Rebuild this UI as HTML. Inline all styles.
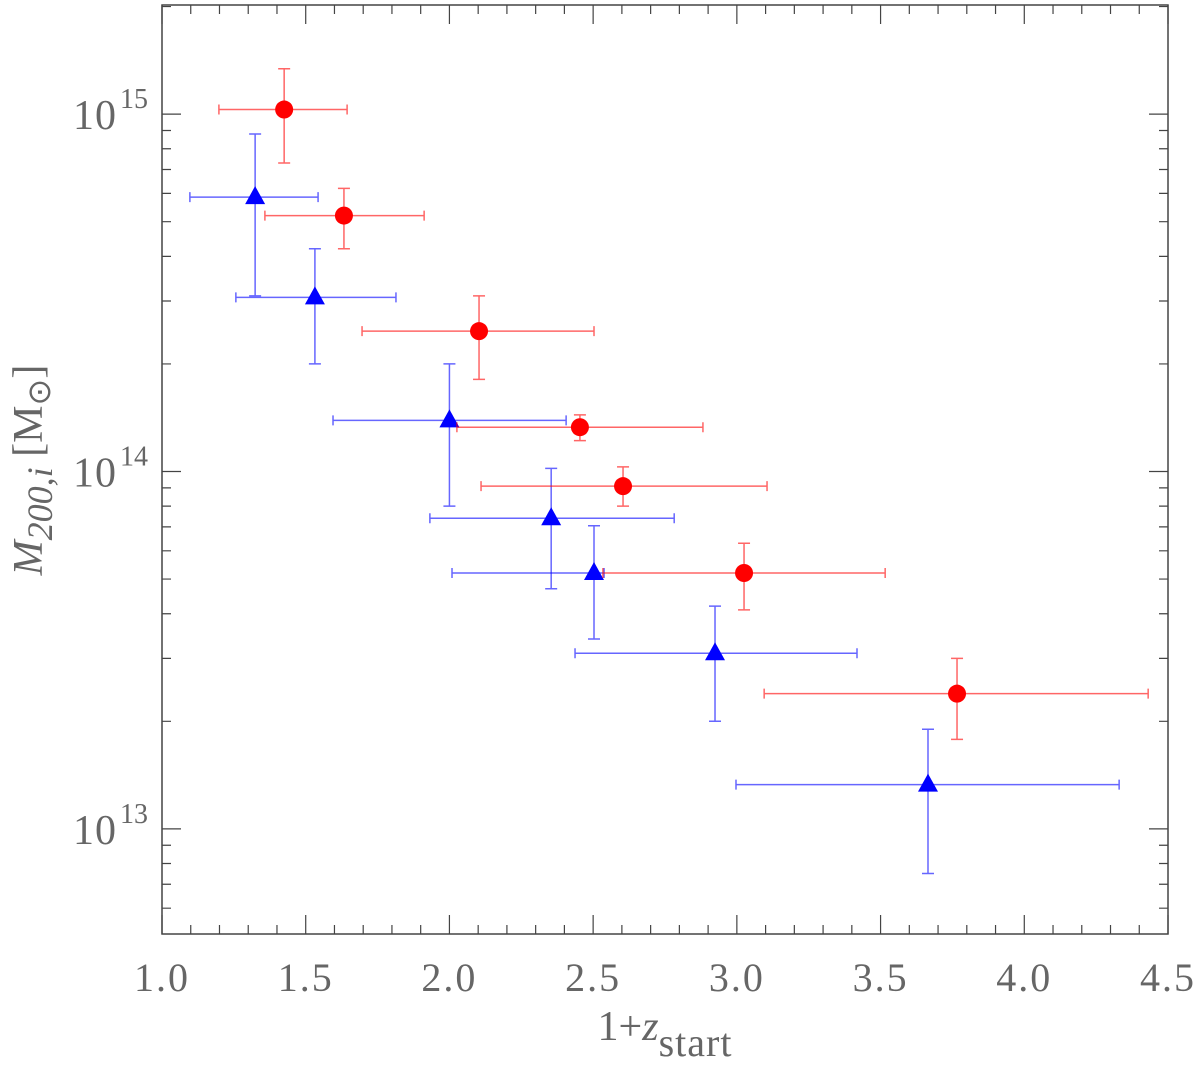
<!DOCTYPE html>
<html><head><meta charset="utf-8"><style>
html,body{margin:0;padding:0;background:#fff;}
svg text{font-family:"Liberation Serif",serif;fill:#666;}
</style></head><body>
<svg id="chart" width="1200" height="1065" viewBox="0 0 1200 1065" xmlns="http://www.w3.org/2000/svg">
<g id="axes"></g>
<g id="series"></g>
</svg>
<script>
// Red circles
const redX=[1.425,1.633,2.103,2.454,2.604,3.025,3.766];
const redXlo=[1.198,1.358,1.696,2.026,2.11,2.534,3.095];
const redXhi=[1.644,1.912,2.503,2.882,3.105,3.516,4.431];
const redY=[1.03e15,0.52e15,2.47e14,1.33e14,0.91e14,0.52e14,2.39e13];
const redYlo=[0.73e15,0.42e15,1.81e14,1.22e14,0.80e14,0.41e14,1.78e13];
const redYhi=[1.34e15,0.62e15,3.1e14,1.44e14,1.03e14,0.63e14,3.0e13];
// Blue triangles
const bluX=[1.324,1.532,2.0,2.354,2.503,2.924,3.665];
const bluXlo=[1.097,1.257,1.595,1.932,2.009,2.437,2.997];
const bluXhi=[1.543,1.814,2.406,2.782,2.538,3.418,4.33];
const bluY=[0.586e15,3.07e14,1.39e14,0.74e14,0.52e14,3.1e13,1.33e13];
const bluYlo=[0.31e15,2.0e14,0.80e14,0.47e14,0.34e14,2.0e13,0.75e13];
const bluYhi=[0.88e15,4.2e14,2.0e14,1.02e14,0.705e14,4.2e13,1.9e13];
const xTicks=[1.0,1.5,2.0,2.5,3.0,3.5,4.0,4.5];
const xTickLabels=["1.0","1.5","2.0","2.5","3.0","3.5","4.0","4.5"];
const yDecades=[13,14,15];

const L=162,R=1168,T=5,B=934;
const xmin=1.0,xmax=4.5,ymin=Math.log10(5.08e12),ymax=Math.log10(2.02e15);
const sx=v=>L+(v-xmin)/(xmax-xmin)*(R-L);
const sy=v=>B-(Math.log10(v)-ymin)/(ymax-ymin)*(B-T);
const NS="http://www.w3.org/2000/svg";
function mk(tag,attrs,parent){const e=document.createElementNS(NS,tag);for(const k in attrs)e.setAttribute(k,attrs[k]);parent.appendChild(e);return e;}
const ax=document.getElementById('axes'),sr=document.getElementById('series');
let f=mk('rect',{x:L,y:T,width:R-L,height:B-T,fill:'none',stroke:'#444','stroke-width':1.5},ax);


for(let i=0;i<=35;i++){const v=1+i*0.1;const x=sx(v);const len=(i%5==0)?19:9;
 let t=mk('path',{d:`M${x} ${B}v${-len}M${x} ${T}v${len}`,stroke:'#444','stroke-width':1.2},ax);
 
 }
xTicks.forEach((v,i)=>{let t=mk('text',{x:sx(v),y:991,'font-size':40,'text-anchor':'middle','letter-spacing':2},ax);t.textContent=xTickLabels[i];
 
 });
for(let d=12;d<=15;d++){for(let m=1;m<=9;m++){const v=m*Math.pow(10,d);const lv=Math.log10(v);if(lv<ymin||lv>ymax)continue;
 const y=sy(v);const len=m==1?19:9;
 let t=mk('path',{d:`M${L} ${y}h${len}M${R} ${y}h${-len}`,stroke:'#444','stroke-width':1.2},ax);
 
 }}
yDecades.forEach(d=>{const y=sy(Math.pow(10,d));
 let t=mk('text',{x:117,y:y+15,'font-size':42,'text-anchor':'end','letter-spacing':1},ax);t.textContent='10';
 
 
 let s=mk('text',{x:120,y:y-6,'font-size':28},ax);s.textContent=String(d);
 
 });
let xt=mk('text',{x:665,y:1040,'font-size':42,'text-anchor':'middle'},ax);
xt.innerHTML='1+<tspan font-style="italic">z</tspan><tspan font-size="40" dy="16" letter-spacing="1">start</tspan>';


let yt=mk('text',{x:0,y:0,'font-size':42,'text-anchor':'middle',transform:'translate(42,470) rotate(-90)'},ax);
yt.innerHTML='<tspan font-style="italic">M</tspan><tspan font-size="36" dy="10" font-style="italic">200,i</tspan><tspan dy="-10">  [M</tspan><tspan font-size="32" dy="8">⊙</tspan><tspan dy="-8">]</tspan>';



function drawSeries(X,Xlo,Xhi,Y,Ylo,Yhi,col,shape,name){
 for(let i=0;i<X.length;i++){
  const x=sx(X[i]),y=sy(Y[i]),x1=sx(Xlo[i]),x2=sx(Xhi[i]),y1=sy(Yhi[i]),y2=sy(Ylo[i]);
  let e=mk('path',{d:`M${x1} ${y}H${x2}M${x1} ${y-5}v10M${x2} ${y-5}v10M${x} ${y1}V${y2}M${x-6} ${y1}h12M${x-6} ${y2}h12`,stroke:col,'stroke-width':1.5,fill:'none','stroke-opacity':0.6},sr);
  
  
  let m;
  if(shape=='circle') m=mk('circle',{cx:x,cy:y,r:9,fill:col},sr);
  else m=mk('path',{d:`M${x} ${y-11}L${x+10} ${y+7}L${x-10} ${y+7}Z`,fill:col},sr);
  
  
 }
}
drawSeries(bluX,bluXlo,bluXhi,bluY,bluYlo,bluYhi,'#0000ff','tri','blue');
drawSeries(redX,redXlo,redXhi,redY,redYlo,redYhi,'#ff0000','circle','red');
</script>
</body></html>
